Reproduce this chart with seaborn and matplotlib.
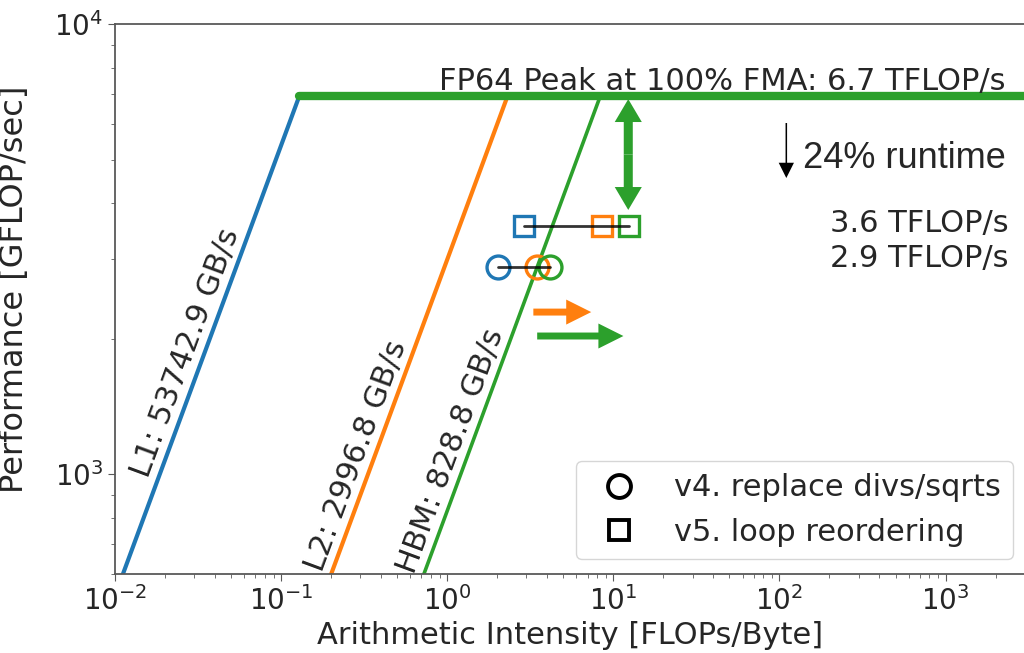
import numpy as np
import matplotlib.pyplot as plt
from matplotlib.lines import Line2D
import pandas as pd
import seaborn as sns

# roofline ceilings (GFLOP/s and GB/s)
peak_gflops = 6930
peak_label = 'FP64 Peak at 100% FMA: 6.7 TFLOP/s'
bw_names = ['L1', 'L2', 'HBM']
bw_values = [53742.9, 2996.8, 828.8]
bw_colors = ['#1f77b4', '#ff7f0e', '#2ca02c']
bw_widths = [3, 3, 2.6]
bw_label_perf = [1800, 1063, 1092]

# kernel versions, one marker per memory level (L1, L2, HBM)
v4_ai = [2.03, 3.47, 4.17]
v4_perf = 2880
v5_ai = [2.88, 8.59, 12.5]
v5_perf = 3560
version_labels = ['v4. replace divs/sqrts', 'v5. loop reordering']
perf_texts = ['3.6 TFLOP/s', '2.9 TFLOP/s']

xmin, xmax = 1e-2, 3.05e3
ymin, ymax = 600, 1e4

sns.set_style('ticks')
plt.rcParams['font.family'] = ['DejaVu Sans']
plt.rcParams['axes.edgecolor'] = '0.35'
plt.rcParams['axes.linewidth'] = 1.3

fig = plt.figure(figsize=(10.24, 6.53), dpi=100)
ax = fig.add_axes([115 / 1024, 79 / 653, 911 / 1024, 550 / 653])
ax.set_xscale('log')
ax.set_yscale('log')
ax.set_xlim(xmin, xmax)
ax.set_ylim(ymin, ymax)

# bandwidth ceilings
for name, bw, col, lw in zip(bw_names, bw_values, bw_colors, bw_widths):
    xs = [xmin, peak_gflops / bw]
    sns.lineplot(x=xs, y=[bw * x for x in xs], ax=ax, color=col, lw=lw)

# compute ceiling
sns.lineplot(x=[peak_gflops / bw_values[0], xmax * 2], y=[peak_gflops, peak_gflops],
             ax=ax, color=bw_colors[2], lw=6)

# rotated labels along the bandwidth lines
p0 = ax.transData.transform((1, 1000))
p1 = ax.transData.transform((10, 10000))
ang = np.degrees(np.arctan2(p1[1] - p0[1], p1[0] - p0[0]))
off = 12.5
dx, dy = -off * np.sin(np.radians(ang)), off * np.cos(np.radians(ang))
for name, bw, yl in zip(bw_names, bw_values, bw_label_perf):
    ax.annotate(f'{name}: {bw} GB/s', xy=(yl / bw, yl), xytext=(dx, dy),
                textcoords='offset points', ha='center', va='center',
                rotation=ang, rotation_mode='anchor', fontsize=22)

ax.text(2300, 7150, peak_label, ha='right', va='baseline', fontsize=22)

# kernel points
ax.plot([v4_ai[0], v4_ai[-1]], [v4_perf, v4_perf], color='k', lw=2, alpha=0.8, zorder=5)
ax.plot([v5_ai[0], v5_ai[-1]], [v5_perf, v5_perf], color='k', lw=2, alpha=0.8, zorder=5)
for xa, xb, col in zip(v4_ai, v5_ai, bw_colors):
    ax.plot(xa, v4_perf, marker='o', ms=16.5, mfc='none', mec=col, mew=2.4, zorder=4)
    ax.plot(xb, v5_perf, marker='s', ms=14.5, mfc='none', mec=col, mew=2.4, zorder=4)

ax.text(2400, 3450, perf_texts[0], ha='right', va='baseline', fontsize=22)
ax.text(2400, 2880, perf_texts[1], ha='right', va='baseline', fontsize=22)

# arrows
def fat_arrow(x0, y0, x1, y1, col, tail, hw, hl):
    ax.annotate('', xy=(x1, y1), xytext=(x0, y0),
                arrowprops=dict(arrowstyle=f'simple,head_length={hl},head_width={hw},tail_width={tail}',
                                mutation_scale=1, color=col, lw=0, shrinkA=0, shrinkB=0))

ymid = np.sqrt(6810 * 3863)
fat_arrow(12.3, ymid, 12.3, 6810, bw_colors[2], 6.5, 19.5, 16.5)
fat_arrow(12.3, ymid, 12.3, 3863, bw_colors[2], 6.5, 19.5, 16.5)
fat_arrow(3.30, 2291, 7.36, 2291, bw_colors[1], 5, 18, 18)
fat_arrow(3.48, 2027, 11.5, 2027, bw_colors[2], 5, 18, 18)
fat_arrow(110, 6026, 110, 4548, 'k', 1.1, 11, 11)
ax.text(139, 4786, '24% runtime', ha='left', va='baseline', fontsize=26,
        family=['Liberation Sans', 'DejaVu Sans'])

handles = [Line2D([], [], ls='', marker='o', ms=16.5, mfc='none', mec='k', mew=2.8),
           Line2D([], [], ls='', marker='s', ms=14.5, mfc='none', mec='k', mew=2.8)]
ax.legend(handles, version_labels, loc='lower right', fontsize=22,
          bbox_to_anchor=((1013 - 115) / 911, 15 / 550), borderaxespad=0)

ax.tick_params(which='major', labelsize=20, length=5, color='0.35')
ax.tick_params(which='minor', length=3, color='0.35')
ax.set_xlabel('Arithmetic Intensity [FLOPs/Byte]', fontsize=22)
ax.set_ylabel('Performance [GFLOP/sec]', fontsize=23)
ax.yaxis.set_label_coords(-0.093, 0.518)

fig.savefig('out.png', dpi=100)
